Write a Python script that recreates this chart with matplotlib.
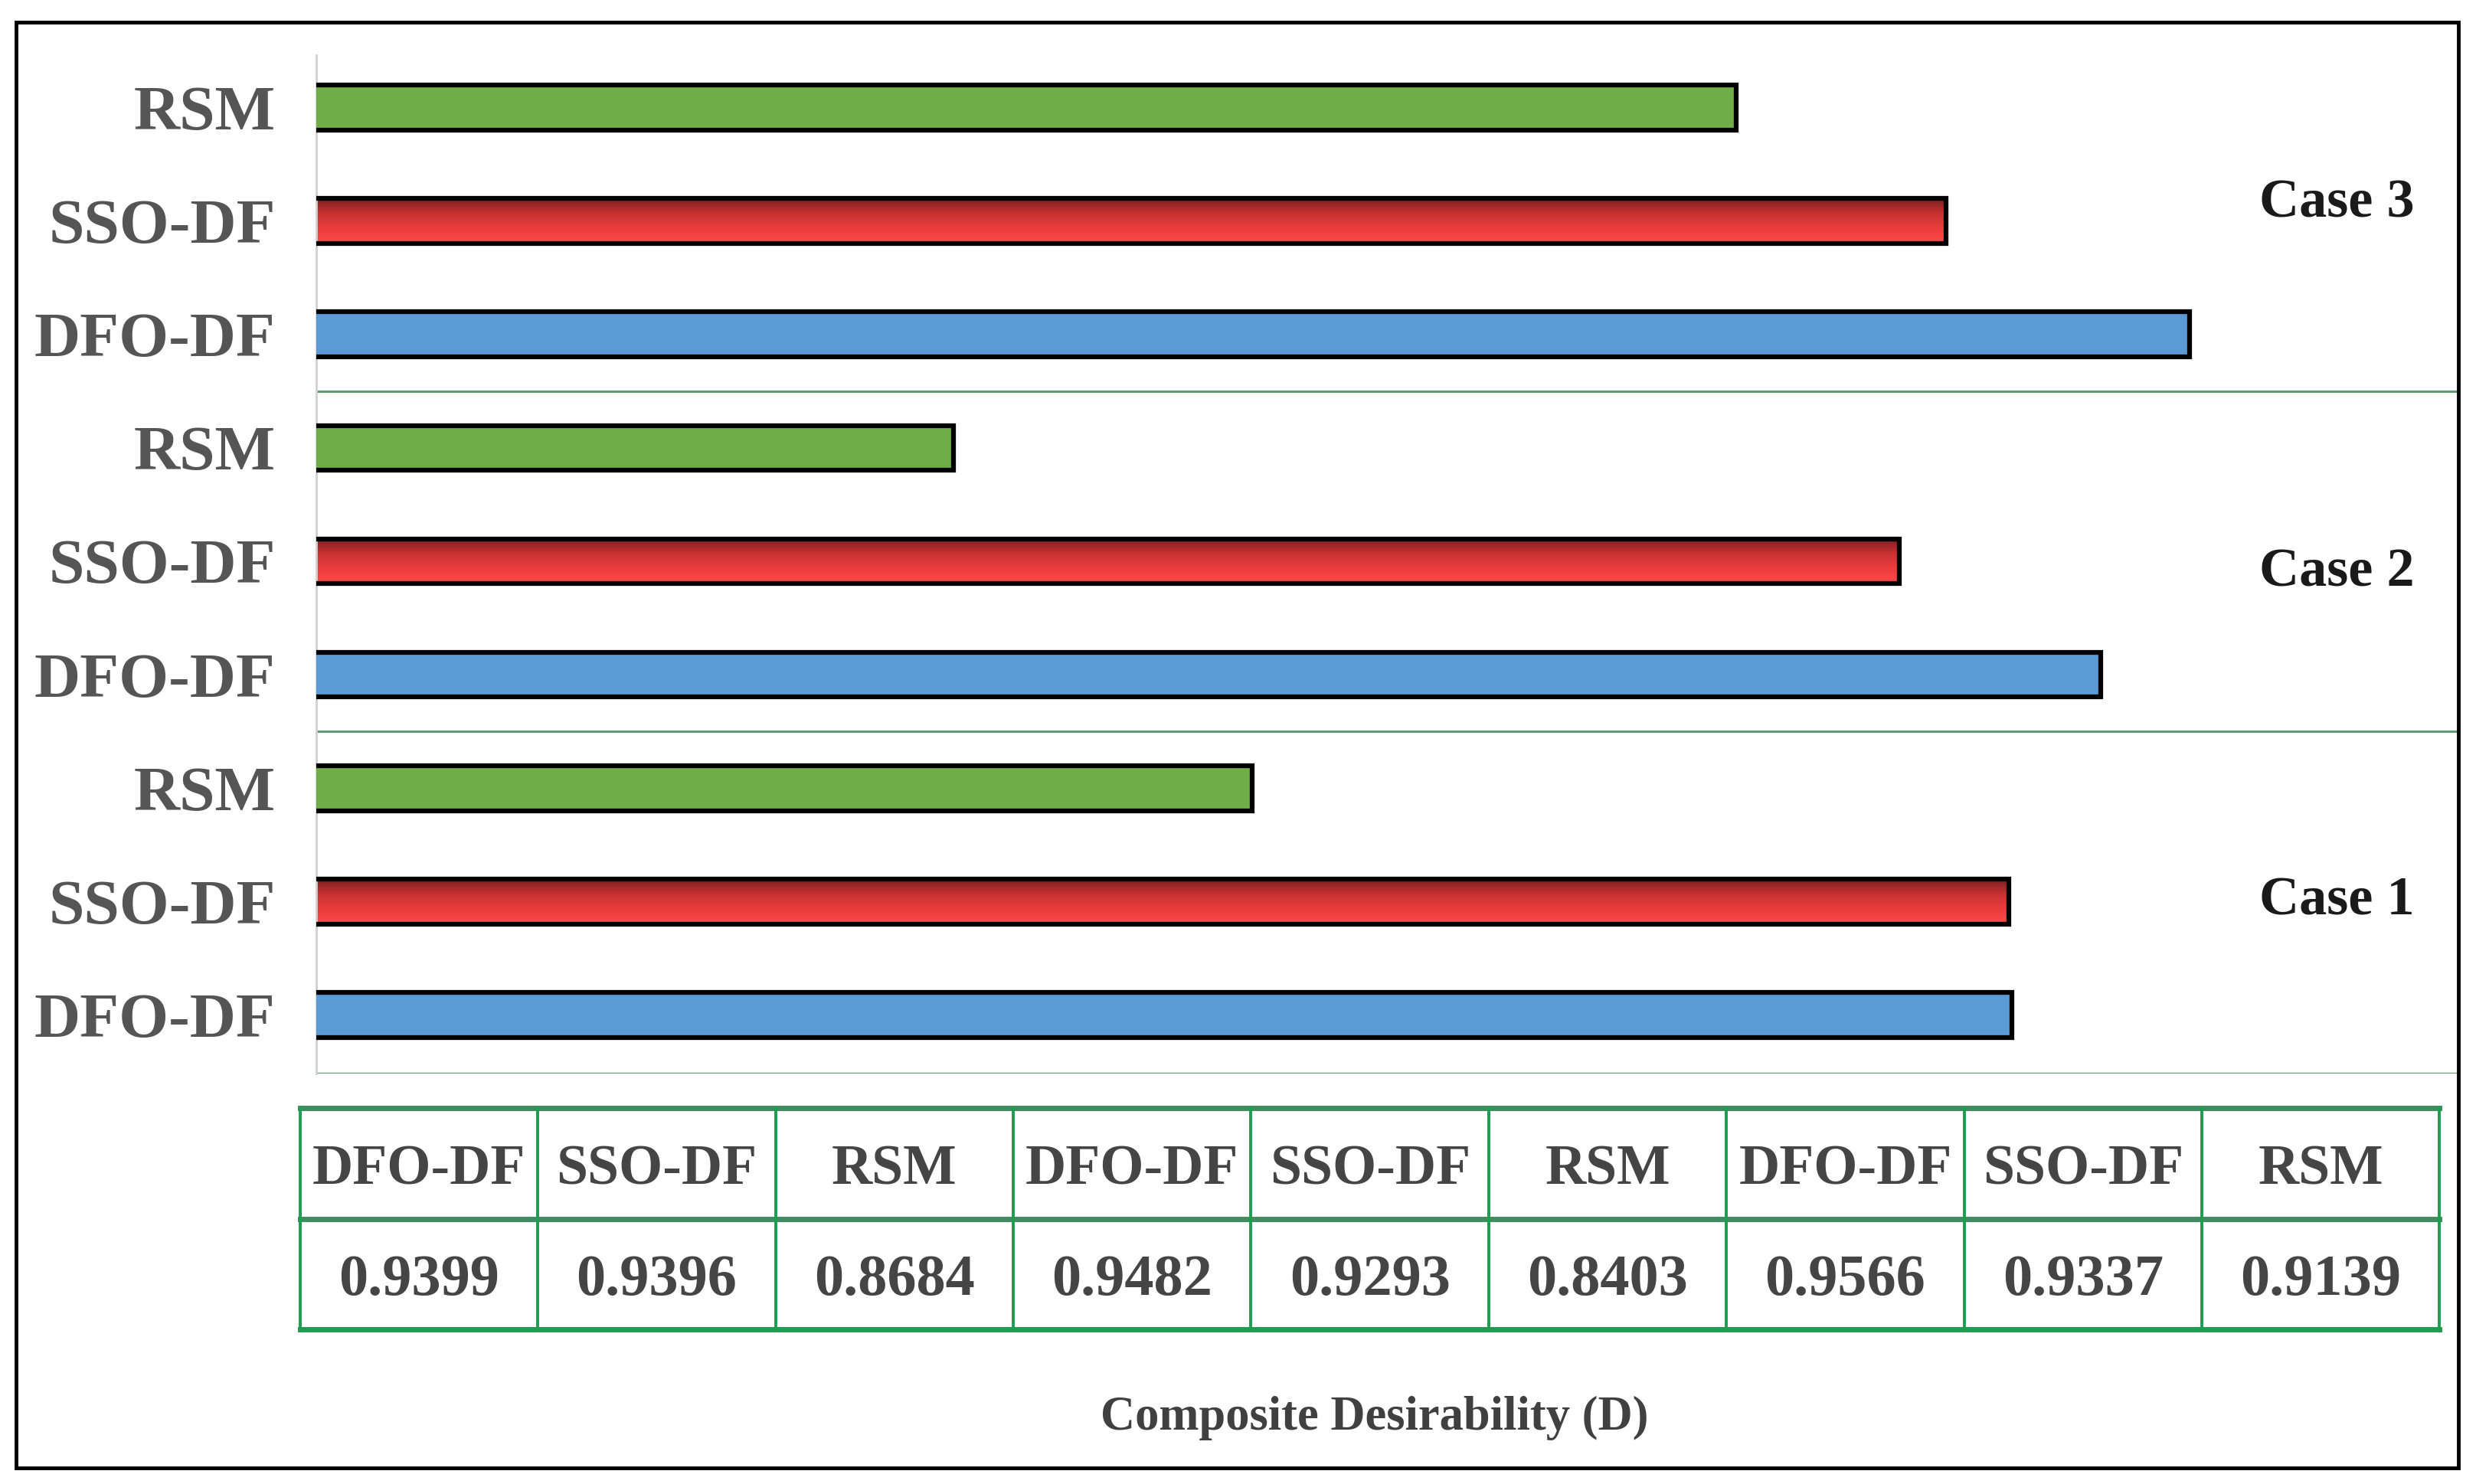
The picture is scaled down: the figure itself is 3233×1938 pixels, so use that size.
import numpy as np
import matplotlib.pyplot as plt
from matplotlib.colors import LinearSegmentedColormap
from matplotlib.patches import Rectangle
import matplotlib.transforms as mtransforms

# data
cases = ['Case 1', 'Case 2', 'Case 3']
methods = ['DFO-DF', 'SSO-DF', 'RSM']
dfo_df = [0.9399, 0.9482, 0.9566]
sso_df = [0.9396, 0.9293, 0.9337]
rsm = [0.8684, 0.8403, 0.9139]
case_label_y = [1.0, 3.9, 7.15]

colors = {'DFO-DF': '#5b9bd5', 'SSO-DF': '#e8383b', 'RSM': '#70ad47'}
serif = ['Liberation Serif', 'DejaVu Serif']
xmin, xmax = 0.7803, 0.9819

vals = []
labels = []
ypos = []
for i in range(len(cases)):
    for j, (m, series) in enumerate(zip(methods, [dfo_df, sso_df, rsm])):
        vals.append(series[i])
        labels.append(m)
        ypos.append(3 * i + j)

fig = plt.figure(figsize=(32.33, 19.38), dpi=100)
ax = fig.add_axes([0.1276, 0.2766, 0.9930 - 0.1276, 0.9628 - 0.2766])

red_cmap = LinearSegmentedColormap.from_list('redgrad', ['#ff4848', '#ea3d3d', '#c93232', '#7a1f22'])
grad = np.linspace(0, 1, 100).reshape(-1, 1)
h = 0.395
for y, v, m in zip(ypos, vals, labels):
    if m == 'SSO-DF':
        ax.imshow(grad, extent=(0, v, y + h / 2, y - h / 2), aspect='auto',
                  cmap=red_cmap, zorder=2, origin='upper')
        ax.barh(y, v, height=h, facecolor='none', edgecolor='black', linewidth=4.5, zorder=3)
    else:
        ax.barh(y, v, height=h, color=colors[m], edgecolor='black', linewidth=4.5, zorder=3)

ax.set_xlim(xmin, xmax)
ax.set_ylim(-0.515, 8.46)

# group separators
for k in [2.5, 5.5]:
    ax.axhline(k, color='#5f9a72', linewidth=2.2, zorder=1)
ax.axhline(-0.515, color='#6f9a7d', linewidth=2.5, zorder=1)

for s in ['top', 'right', 'bottom']:
    ax.spines[s].set_visible(False)
ax.spines['left'].set_color('#d0d0d0')
ax.spines['left'].set_linewidth(2)
ax.set_xticks([])
ax.set_yticks(ypos)
ax.set_yticklabels(labels, family=serif, fontweight='bold', fontsize=60, color='#555555')
ax.tick_params(axis='y', length=0, pad=38)

trans = mtransforms.blended_transform_factory(ax.transAxes, ax.transData)
for c, yc in zip(cases, case_label_y):
    ax.text(0.943, yc, c, transform=trans, ha='center', va='center',
            family=serif, fontweight='bold', fontsize=52, color='#1a1a1a')

# data table under the chart
tab = fig.add_axes([0.1212, 0.1043, 0.9853 - 0.1212, 0.2532 - 0.1043])
tab.set_xlim(0, len(vals))
tab.set_ylim(0, 2)
tab.axis('off')
for yl, col in zip([0, 1, 2], ['#1e9c50', '#3f8d5e', '#3f8d5e']):
    tab.axhline(yl, color=col, linewidth=5, clip_on=False)
for xl in range(len(vals) + 1):
    tab.axvline(xl, color='#1e9c50', linewidth=2.8, clip_on=False)
for k, (m, v) in enumerate(zip(labels, vals)):
    tab.text(k + 0.5, 1.44, m, ha='center', va='center', family=serif,
             fontweight='bold', fontsize=53, color='#454545')
    tab.text(k + 0.5, 0.44, f'{v:.4f}', ha='center', va='center', family=serif,
             fontweight='bold', fontsize=55, color='#454545')

fig.text(0.555, 0.0445, 'Composite Desirability (D)', ha='center', va='center',
         family=serif, fontweight='bold', fontsize=45, color='#404040')

fig.patches.append(Rectangle((0.0064, 0.0106), 0.9866, 0.9745, transform=fig.transFigure,
                             fill=False, edgecolor='black', linewidth=3.5))

fig.savefig('out.png', dpi=100, facecolor='white')
